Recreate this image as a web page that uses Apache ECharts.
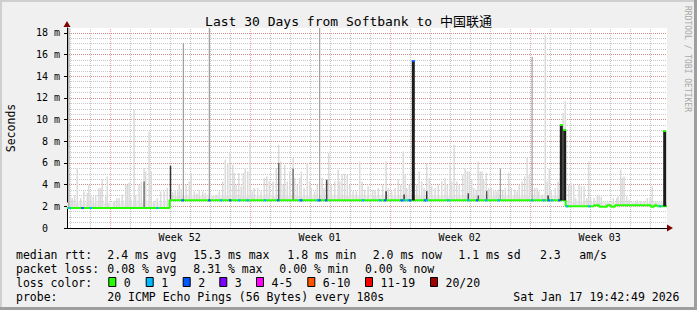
<!DOCTYPE html>
<html>
<head>
<meta charset="utf-8">
<script src="https://cdn.jsdelivr.net/npm/echarts@6/dist/echarts.min.js"></script>
<style>
html, body { margin: 0; padding: 0; background: #f0f0f0; }
#chart { width: 697px; height: 310px; }
</style>
</head>
<body>
<div id="chart"></div>
<script>
// x values are days since Sun Dec 21 00:00 (start of week 52)
var xStart = -2.135, xEnd = 27.865;
var yMax = 18.45; // ms
var weekMid = [3.5, 10.5, 17.5, 24.5];
var weekLabels = ['Week 52', 'Week 01', 'Week 02', 'Week 03'];
var weekStart = [0, 7, 14, 21];

// median rtt in ms, [day, value] where the value changes
var medianSteps = [[-2.135, 1.84], [3.0, 2.55], [22.8, 2.0], [24.22, 2.1], [24.47, 1.95], [24.87, 2.1],
  [25.07, 1.95], [25.27, 2.1], [27.07, 1.95], [27.22, 2.1], [27.37, 2.0], [27.865, 2.0]];

// dense smoke just above the median: [fromDay, toDay, top ms]
var smokeBand = [[-2.135, 3.0, 2.35], [3.0, 22.8, 3.0], [22.8, 27.865, 2.4]];

// highest ping per slot (light smoke): [day, ms]
var smokeMax = [
  [-1.95, 2.76], [-1.87, 2.76], [-1.75, 3.0], [-1.62, 5.53], [-1.45, 2.76], [-1.29, 3.38], [-1.12, 3.23],
  [-1.04, 3.99], [-0.95, 3.07], [-0.82, 2.9], [-0.70, 3.07], [-0.54, 3.69], [-0.45, 3.69], [-0.37, 4.45],
  [-0.20, 3.07], [-0.12, 4.75], [-0.04, 2.3], [0.22, 2.46], [0.35, 2.76], [0.47, 2.76], [0.63, 3.07],
  [0.80, 3.99], [0.88, 3.99], [0.97, 4.2], [1.05, 2.76], [1.22, 10.9], [1.30, 3.07], [1.47, 3.99],
  [1.58, 4.3], [1.72, 5.53], [1.80, 5.22], [1.97, 8.9], [2.08, 5.22], [2.22, 2.46], [2.38, 2.76],
  [2.55, 3.38], [2.72, 3.38], [2.88, 3.69], [3.15, 3.3], [3.28, 3.5], [3.40, 3.38], [3.48, 3.99],
  [3.57, 3.6], [3.82, 3.99], [3.98, 4.3], [4.07, 5.07], [4.23, 3.38], [4.35, 3.2], [4.48, 3.53],
  [4.65, 3.38], [4.78, 3.23], [5.15, 2.92], [5.32, 3.07], [5.48, 3.38], [5.65, 4.3], [5.78, 6.3],
  [5.90, 5.99], [6.02, 6.9], [6.15, 5.84], [6.23, 5.07], [6.32, 3.99], [6.45, 5.07], [6.57, 3.84],
  [6.68, 5.07], [6.78, 5.53], [6.90, 5.22], [7.02, 7.83], [7.12, 3.38], [7.23, 3.69], [7.40, 3.69],
  [7.57, 3.38], [7.73, 4.61], [7.85, 4.76], [7.98, 4.3], [8.17, 4.3], [8.33, 5.53], [8.45, 7.68],
  [8.55, 6.14], [8.67, 3.99], [8.75, 5.84], [8.88, 4.3], [9.00, 5.22], [9.17, 6.45], [9.25, 4.61],
  [9.38, 3.99], [9.50, 4.61], [9.58, 5.22], [9.72, 3.69], [9.88, 5.99], [10.00, 4.3], [10.08, 3.69],
  [10.25, 3.38], [10.38, 3.99], [10.62, 4.61], [10.72, 3.69], [10.83, 4.3], [10.95, 6.91], [11.08, 3.99],
  [11.25, 4.3], [11.42, 5.38], [11.50, 4.3], [11.62, 4.92], [11.75, 4.99], [11.88, 4.92], [12.00, 3.99],
  [12.17, 3.38], [12.33, 3.38], [12.50, 6.14], [12.62, 4.3], [12.75, 3.53], [12.92, 3.84], [13.15, 3.53],
  [13.27, 3.5], [13.43, 3.69], [13.65, 3.99], [13.82, 6.14], [13.93, 3.69], [14.10, 3.38], [14.27, 3.69],
  [14.43, 4.45], [14.55, 3.99], [14.68, 7.07], [14.77, 4.92], [14.85, 3.69], [14.98, 3.99], [15.35, 3.99],
  [15.48, 5.22], [15.60, 4.3], [15.72, 3.69], [15.85, 5.99], [15.98, 4.61], [16.10, 3.84], [16.27, 3.69],
  [16.43, 3.99], [16.60, 4.3], [16.77, 4.61], [16.88, 3.99], [17.02, 5.84], [17.10, 4.3], [17.22, 7.68],
  [17.35, 4.3], [17.48, 3.99], [17.65, 4.92], [17.77, 5.53], [17.88, 5.22], [17.98, 5.22], [18.10, 4.45],
  [18.20, 3.69], [18.32, 3.53], [18.42, 6.14], [18.53, 5.22], [18.62, 5.22], [18.70, 4.45], [18.83, 5.07],
  [18.95, 3.69], [19.08, 3.69], [19.20, 3.53], [19.32, 3.38], [19.42, 3.53], [19.65, 3.53], [19.78, 3.69],
  [19.95, 5.1], [20.08, 3.69], [20.25, 3.53], [20.37, 3.38], [20.48, 3.99], [20.62, 4.3], [20.75, 4.76],
  [20.87, 6.45], [20.98, 4.92], [21.25, 3.69], [21.37, 3.69], [21.45, 3.38], [21.62, 3.07], [21.78, 17.8],
  [21.87, 4.3], [21.98, 5.53], [22.08, 3.38], [22.28, 3.69], [22.42, 4.3], [22.53, 3.38], [22.67, 10.6],
  [22.78, 11.7], [22.95, 3.99], [23.08, 4.15], [23.20, 3.99], [23.30, 2.76], [23.47, 3.99], [23.58, 3.84],
  [23.72, 3.84], [23.85, 2.76], [23.95, 6.14], [24.05, 2.76], [24.22, 2.76], [24.38, 3.0], [24.47, 3.07],
  [24.58, 2.9], [24.80, 2.3], [24.97, 2.3], [25.18, 2.76], [25.35, 2.76], [25.42, 2.92], [25.55, 5.38],
  [25.63, 4.61], [25.72, 4.76], [25.85, 2.92], [25.97, 2.61], [26.13, 2.3], [26.30, 2.46], [26.38, 2.61],
  [26.55, 2.46], [26.72, 2.46], [26.88, 2.76], [27.02, 2.76], [27.13, 3.84], [27.30, 2.46], [27.47, 2.3],
  [27.63, 2.3]
];

// thin outliers: [day, ms]
var outliers = [[-2.04, 20], [3.68, 17.05], [4.98, 20], [10.50, 20], [19.53, 5.5], [21.12, 15.8]];

// darker smoke near the median: [day, ms, grey level]
var smokeDark = [[1.72, 4.3, 119], [3.04, 5.75, 51], [8.45, 6.0, 102], [9.17, 5.5, 119], [10.85, 4.45, 68],
  [13.82, 3.4, 51], [14.72, 3.1, 51], [15.85, 3.4, 51], [17.93, 3.2, 68], [18.43, 3.0, 85],
  [18.85, 3.4, 85], [21.92, 3.0, 51]];

// slots where all pings were slow: [day, ms, lost pings]
var medianSpikes = [[15.18, 15.4, 2], [22.58, 9.5, 0], [22.75, 9.05, 0], [27.75, 8.95, 0]];

// lost pings along the median: [day, lost pings]
var lossMarks = [[-2.02, 1], [-1.36, 2], [-0.95, 1], [2.39, 1], [3.65, 2], [4.98, 2], [5.57, 1], [6.02, 2],
  [6.48, 1], [6.90, 1], [7.77, 1], [8.42, 2], [9.50, 1], [9.58, 2], [10.40, 1], [10.49, 2], [10.82, 2],
  [12.67, 1], [13.52, 1], [13.77, 2], [14.60, 2], [14.73, 1], [14.93, 1], [15.02, 2], [15.77, 2],
  [15.85, 1], [16.93, 1], [17.93, 1], [18.37, 2], [18.82, 1], [19.45, 1], [21.12, 1], [21.70, 1],
  [21.95, 2], [22.12, 1], [22.48, 2], [22.87, 1], [23.97, 1], [27.52, 1]];

var lossColors = ['#26ff00', '#00b8ff', '#0059ff', '#7e00ff', '#ff00ff', '#ff5500', '#ff0000', '#a10000'];
var lossLabels = ['0', '1', '2', '3', '4-5', '6-10', '11-19', '20/20'];

var rttStats = ['median rtt:', '2.4 ms avg', '15.3 ms max', '1.8 ms min', '2.0 ms now', '1.1 ms sd', '2.3', 'am/s'];
var lossStats = ['packet loss:', '0.08 % avg', '8.31 % max', '0.00 % min', '0.00 % now'];
var probeText = ['probe:', '20 ICMP Echo Pings (56 Bytes) every 180s', 'Sat Jan 17 19:42:49 2026'];

function medianAt(d) {
  var v = medianSteps[0][1];
  for (var i = 0; i < medianSteps.length; i++) {
    if (medianSteps[i][0] <= d) v = medianSteps[i][1];
  }
  return v;
}

var minorDays = [], majorDays = weekStart.slice();
for (var d = Math.ceil(xStart); d <= xEnd; d++) {
  if (weekStart.indexOf(d) < 0) minorDays.push([d]);
}

var mono = '"DejaVu Sans Mono", "Noto Sans CJK SC", monospace';
var chart = echarts.init(document.getElementById('chart'), null, { renderer: 'svg' });

function vLine(color) {
  return function (params, api) {
    var p0 = api.coord([api.value(0), 0]);
    var p1 = api.coord([api.value(0), yMax]);
    var x = Math.round(p0[0]) + 0.5;
    return { type: 'line', shape: { x1: x, y1: p0[1], x2: x, y2: p1[1] },
      style: { stroke: color, lineWidth: 1, lineDash: [1, 1] } };
  };
}

function column(width, colorFn) {
  return function (params, api) {
    var d = api.value(0);
    var top = Math.min(api.value(1), yMax);
    var p0 = api.coord([d, medianAt(d)]);
    var p1 = api.coord([d, top]);
    return { type: 'rect', shape: { x: p0[0] - width / 2, y: p1[1], width: width, height: p0[1] - p1[1] },
      style: { fill: colorFn(api) } };
  };
}

function legendText(text, x, y) {
  return { type: 'text', x: x, y: y, silent: true,
    style: { text: text, font: '11.5px ' + mono, fill: '#000', align: 'left', verticalAlign: 'middle' } };
}

var graphics = [
  { type: 'rect', shape: { x: 0, y: 0, width: 697, height: 2 }, style: { fill: '#cfcfcf' } },
  { type: 'rect', shape: { x: 0, y: 0, width: 2, height: 310 }, style: { fill: '#cfcfcf' } },
  { type: 'rect', shape: { x: 0, y: 307, width: 697, height: 3 }, style: { fill: '#9e9e9e' } },
  { type: 'rect', shape: { x: 694, y: 0, width: 3, height: 310 }, style: { fill: '#9e9e9e' } },
  { type: 'text', x: 348.5, y: 21, style: { text: 'Last 30 Days from Softbank to 中国联通',
    font: '13px ' + mono, fill: '#000', align: 'center', verticalAlign: 'middle' } },
  { type: 'text', x: 687, y: 59, rotation: -Math.PI / 2, style: { text: 'RRDTOOL / TOBI OETIKER',
    font: '8px ' + mono, fill: '#a8a8a8', align: 'center', verticalAlign: 'middle' } },
  { type: 'polygon', shape: { points: [[63.5, 27], [70.5, 27], [67, 21]] }, style: { fill: '#7f0000' } },
  { type: 'polygon', shape: { points: [[667, 224.5], [667, 231.5], [673, 228]] }, style: { fill: '#7f0000' } }
];
var rttX = [16, 107.3, 193.3, 287.3, 372.7, 458.3, 540, 579.3];
rttStats.forEach(function (t, i) { graphics.push(legendText(t, rttX[i], 254.5)); });
var lossX = [16, 107.3, 193.3, 279.3, 365];
lossStats.forEach(function (t, i) { graphics.push(legendText(t, lossX[i], 268.5)); });
graphics.push(legendText('loss color:', 16, 282.5));
var boxX = [108.3, 145.7, 182.7, 219.3, 256, 307.3, 365, 430];
lossLabels.forEach(function (t, i) {
  graphics.push({ type: 'rect', shape: { x: boxX[i] + 0.5, y: 277.5, width: 7, height: 9 },
    style: { fill: lossColors[i], stroke: '#000', lineWidth: 1 } });
  graphics.push(legendText(t, boxX[i] + 15.5, 282.5));
});
var probeX = [16, 107.3, 513.3];
probeText.forEach(function (t, i) { graphics.push(legendText(t, probeX[i], 296.5)); });

chart.setOption({
  animation: false,
  backgroundColor: '#f0f0f0',
  grid: { left: 67, right: 30, top: 28, bottom: 82, show: true, backgroundColor: '#fff', borderWidth: 0,
    outerBoundsMode: 'none' },
  xAxis: {
    type: 'value', min: xStart, max: xEnd,
    axisLine: { show: true, lineStyle: { color: '#000', width: 1 } },
    axisTick: { show: false },
    splitLine: { show: false },
    axisLabel: {
      customValues: weekMid, margin: 4, color: '#000', fontSize: 10, fontFamily: mono,
      formatter: function (v) { return weekLabels[weekMid.indexOf(v)] || ''; }
    }
  },
  yAxis: [{
    type: 'value', min: 0, max: yMax, interval: 0.5, position: 'left',
    axisLine: { show: false }, axisTick: { show: false }, axisLabel: { show: false },
    splitLine: { show: true, showMinLine: false, showMaxLine: false,
      lineStyle: { color: 'rgba(143,143,143,0.5)', type: [1, 1], width: 1 } }
  }, {
    type: 'value', min: 0, max: yMax, interval: 2, position: 'left',
    name: 'Seconds', nameLocation: 'middle', nameGap: 50, nameRotate: 90,
    nameTextStyle: { color: '#000', fontSize: 11.5, fontFamily: mono },
    axisLine: { show: true, onZero: false, lineStyle: { color: '#000', width: 1 } },
    axisTick: { show: true, length: 3, lineStyle: { color: '#000' } },
    axisLabel: {
      margin: 7, color: '#000', fontSize: 10, fontFamily: mono, showMaxLabel: false,
      formatter: function (v) { return v === 0 ? '0\u00a0\u00a0' : (v % 2 === 0 ? v + ' m' : ''); }
    },
    splitLine: { show: true, showMinLine: false, showMaxLine: false,
      lineStyle: { color: 'rgba(222,94,94,0.55)', type: [1, 1], width: 1 } }
  }],
  graphic: graphics,
  series: [
    { type: 'custom', name: 'day grid', silent: true, z: 1, data: minorDays, encode: { x: 0 },
      renderItem: vLine('rgba(143,143,143,0.5)') },
    { type: 'custom', name: 'week grid', silent: true, z: 1, data: majorDays.map(function (d) { return [d]; }),
      encode: { x: 0 }, renderItem: vLine('rgba(222,94,94,0.55)') },
    { type: 'custom', name: 'smoke band', silent: true, z: 2, clip: true, data: smokeBand, encode: { x: 0, y: 2 },
      renderItem: function (params, api) {
        var p0 = api.coord([api.value(0), medianAt(api.value(0))]);
        var p1 = api.coord([api.value(1), api.value(2)]);
        return { type: 'rect', shape: { x: p0[0], y: p1[1], width: p1[0] - p0[0], height: p0[1] - p1[1] },
          style: { fill: '#ececec' } };
      } },
    { type: 'custom', name: 'smoke', silent: true, z: 3, clip: true, data: smokeMax, encode: { x: 0, y: 1 },
      renderItem: column(1.5, function () { return '#dadada'; }) },
    { type: 'custom', name: 'outliers', silent: true, z: 4, clip: true, data: outliers, encode: { x: 0, y: 1 },
      renderItem: column(1, function () { return '#8c8c8c'; }) },
    { type: 'custom', name: 'dark smoke', silent: true, z: 5, clip: true, data: smokeDark, encode: { x: 0, y: 1 },
      renderItem: column(1.5, function (api) { var g = api.value(2); return 'rgb(' + g + ',' + g + ',' + g + ')'; }) },
    { type: 'line', name: 'median rtt', z: 6, step: 'end', symbol: 'none', data: medianSteps,
      lineStyle: { color: lossColors[0], width: 2 } },
    { type: 'custom', name: 'loss', silent: true, z: 7, data: lossMarks, encode: { x: 0 },
      renderItem: function (params, api) {
        var d = api.value(0);
        var p = api.coord([d, medianAt(d)]);
        return { type: 'rect', shape: { x: p[0] - 1.25, y: p[1] - 1, width: 2.5, height: 2 },
          style: { fill: lossColors[api.value(1)] } };
      } },
    { type: 'custom', name: 'median spikes', silent: true, z: 8, clip: true, data: medianSpikes, encode: { x: 0, y: 1 },
      renderItem: function (params, api) {
        var d = api.value(0);
        var p0 = api.coord([d, medianAt(d)]);
        var p1 = api.coord([d, api.value(1)]);
        return { type: 'group', children: [
          { type: 'rect', shape: { x: p0[0] - 1.5, y: p1[1], width: 3, height: p0[1] - p1[1] }, style: { fill: '#1c1c1c' } },
          { type: 'rect', shape: { x: p0[0] - 1.5, y: p1[1] - 1, width: 3, height: 2 }, style: { fill: lossColors[api.value(2)] } }
        ] };
      } }
  ]
});
</script>
</body>
</html>
